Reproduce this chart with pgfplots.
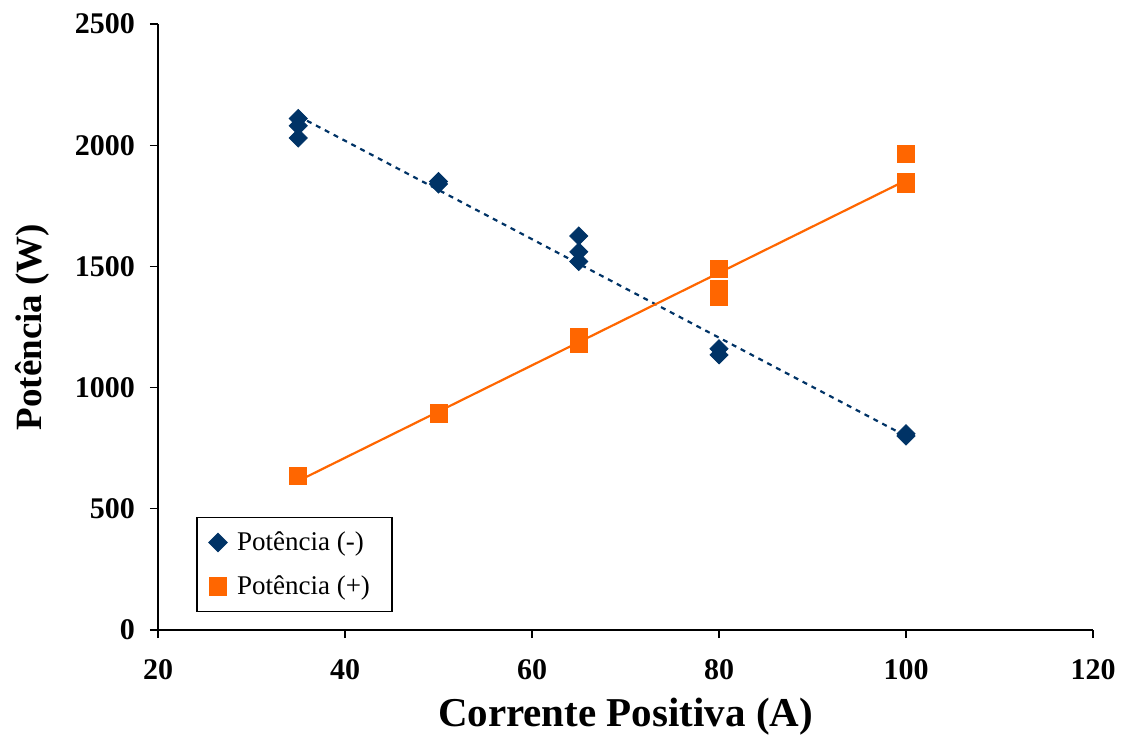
\documentclass[border=0pt]{standalone}
\usepackage{fontspec}
\setmainfont{Liberation Serif}
\usepackage{pgfplots}
\pgfplotsset{compat=1.18}
\definecolor{navy}{HTML}{003366}
\definecolor{orng}{HTML}{FF6600}
\begin{document}
\begin{tikzpicture}
\path[use as bounding box] (0,0) rectangle (561.5pt,367.5pt);
\begin{axis}[
  at={(79pt,52.5pt)}, anchor=south west,
  width=467.5pt, height=303pt, scale only axis,
  xmin=20, xmax=120, ymin=0, ymax=2500,
  xtick={20,40,60,80,100,120},
  ytick={0,500,1000,1500,2000,2500},
  axis lines*=left,
  axis line style={black, line width=0.6pt},
  tick style={black, line width=0.6pt},
  tick align=outside,
  major tick length=4pt,
  /pgf/number format/assume math mode=true,
  /pgf/number format/1000 sep={},
  ticklabel style={font=\fontsize{15}{17}\selectfont\bfseries},
  yticklabel style={xshift=-4pt},
  xticklabel style={yshift=-7pt},
  xlabel={Corrente Positiva (A)},
  ylabel={Potência (W)},
  xlabel style={font=\fontsize{20.5}{24}\selectfont\bfseries, yshift=-2.5pt},
  ylabel style={font=\fontsize{18.5}{22}\selectfont\bfseries, yshift=6pt},
  legend style={at={(0.041,0.03)}, anchor=south west, draw=black, line width=0.6pt,
    fill=white, font=\fontsize{13.5}{16}\selectfont, row sep=7pt,
    inner xsep=6pt, inner ysep=5pt,
    nodes={inner xsep=5pt}},
  legend cell align=left,
  clip=false,
]
% trend lines
\addplot[navy, line width=1.1pt, dash pattern=on 2.5pt off 2.5pt, forget plot]
  coordinates {(35,2120) (100,800)};
\addplot[orng, line width=1.1pt, forget plot]
  coordinates {(35,615) (100,1855)};
% data
\addplot[only marks, mark=square*, mark size=3.2pt, color=navy, mark options={fill=navy, rotate=45}]
  coordinates {
  (35,2110) (35,2080) (35,2030)
  (50,1850) (50,1840)
  (65,1625) (65,1560) (65,1520)
  (80,1160) (80,1135)
  (100,810) (100,800)
  };
\addlegendentry{Potência (-)}
\addplot[only marks, mark=square*, mark size=4.3pt, color=orng, mark options={fill=orng}]
  coordinates {
  (35,635)
  (50,895) (50,890)
  (65,1210) (65,1180)
  (80,1490) (80,1405) (80,1375)
  (100,1965) (100,1850) (100,1840)
  };
\addlegendentry{Potência (+)}
\end{axis}
\end{tikzpicture}
\end{document}
